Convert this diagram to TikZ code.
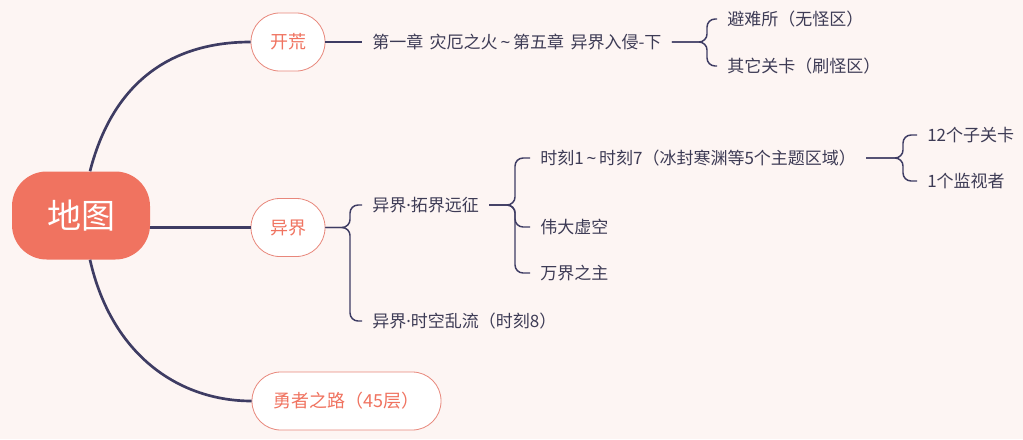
\documentclass[tikz,border=0pt]{standalone}
\usepackage{fontspec}
\setmainfont{Noto Sans CJK SC}
\newfontfamily\latinfont{Noto Sans}
\usetikzlibrary{calc}
\definecolor{bgpink}{HTML}{FDF5F3}
\definecolor{coral}{HTML}{F07360}
\definecolor{topicline}{HTML}{E8877B}
\definecolor{navy}{HTML}{3E3C63}
\definecolor{ink}{HTML}{3D3B55}
\newcommand{\middot}{{\latinfont ·}}
\newcommand{\wave}{\,{\latinfont\textasciitilde}\,}

\begin{document}
\begin{tikzpicture}[x=0.75pt,y=-0.75pt,
  root/.style={fill=coral,text=white,rounded corners=26pt,minimum width=103.5pt,minimum height=66pt,font=\fontsize{25.5}{30}\selectfont},
  topic/.style={draw=topicline,line width=0.6pt,fill=white,rounded corners=21.5pt,minimum width=55.5pt,minimum height=43.5pt,text=coral,font=\fontsize{13.5}{16}\selectfont},
  leaf/.style={anchor=west,inner xsep=7.5pt,text=ink,font=\fontsize{12.75}{15}\selectfont},
  trunk/.style={draw=navy,line width=2pt},
  twig/.style={draw=navy,line width=1.1pt,rounded corners=6pt}]
\fill[bgpink] (0,0) rectangle (1023,439);
\useasboundingbox (0,0) rectangle (1023,439);

\node[root] (map) at (81,215.5) {地图};
\node[topic] (kh) at (288,42) {开荒};
\node[topic] (yj) at (288,227.5) {异界};
\node[topic,minimum width=141.75pt] (yz) at (346.5,401) {勇者之路（45层）};

\node[leaf] (t1) at (362,42) {第一章\hspace{2pt} 灾厄之火\wave 第五章\hspace{2pt} 异界入侵-下};
\node[leaf] (s1) at (717,19) {避难所（无怪区）};
\node[leaf] (s2) at (717,66) {其它关卡（刷怪区）};

\node[leaf] (e1) at (362,205) {异界\middot 拓界远征};
\node[leaf] (e2) at (362,321) {异界\middot 时空乱流（时刻8）};
\node[leaf] (m1) at (530,158) {时刻1\wave 时刻7（冰封寒渊等5个主题区域）};
\node[leaf] (m2) at (530,227) {伟大虚空};
\node[leaf] (m3) at (530,273) {万界之主};
\node[leaf] (k1) at (917,135) {12个子关卡};
\node[leaf] (k2) at (917,181) {1个监视者};

\draw[trunk] ($(map.north)+(9,0)$) .. controls +(25,-97) and +(-71,0) .. (kh.west);
\draw[trunk] (map.east |- yj.west) -- (yj.west);
\draw[trunk] ($(map.south)+(9,0)$) .. controls +(22,97) and +(-71,0) .. (yz.west);

\draw[twig] (kh.east) -- (t1.west);
\draw[twig] (t1.east) -- ($(t1.east -| s1.west)+(-10,0)$) |- (s1.west);
\draw[twig] (t1.east) -- ($(t1.east -| s2.west)+(-10,0)$) |- (s2.west);

\draw[twig] (yj.east) -- ($(yj.east -| e1.west)+(-12,0)$) |- (e1.west);
\draw[twig] (yj.east) -- ($(yj.east -| e2.west)+(-12,0)$) |- (e2.west);

\draw[twig] (e1.east) -- ($(e1.east -| m1.west)+(-15,0)$) |- (m1.west);
\draw[twig] (e1.east) -- ($(e1.east -| m2.west)+(-15,0)$) |- (m2.west);
\draw[twig] (e1.east) -- ($(e1.east -| m3.west)+(-15,0)$) |- (m3.west);

\draw[twig] (m1.east) -- ($(m1.east -| k1.west)+(-14,0)$) |- (k1.west);
\draw[twig] (m1.east) -- ($(m1.east -| k2.west)+(-14,0)$) |- (k2.west);
\end{tikzpicture}
\end{document}
